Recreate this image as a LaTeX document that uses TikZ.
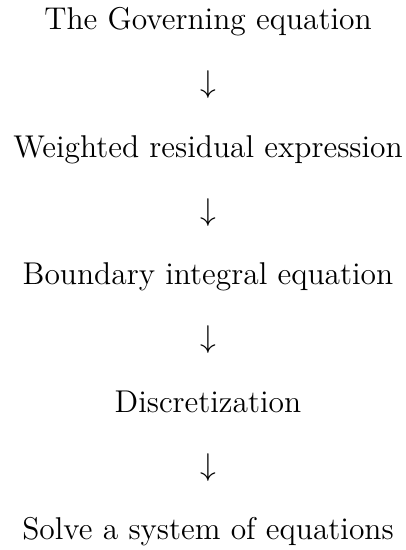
\documentclass[tikz,border=0pt]{standalone}
\begin{document}
\begin{tikzpicture}[x=0.381pt,y=-0.381pt,
  stage/.style={anchor=base,inner sep=0pt,outer sep=0pt,font=\fontsize{12}{14}\selectfont},
  flowarrow/.style={anchor=base,inner sep=0pt,outer sep=0pt,font=\fontsize{12}{14}\selectfont}]
\useasboundingbox (0,0) rectangle (406,550);
\node[stage] (s1) at (208,29) {The Governing equation};
\node[flowarrow] (a1) at (208,92) {$\downarrow$};
\node[stage] (s2) at (208,157) {Weighted residual expression};
\node[flowarrow] (a2) at (208,220) {$\downarrow$};
\node[stage] (s3) at (208,284) {Boundary integral equation};
\node[flowarrow] (a3) at (208,347) {$\downarrow$};
\node[stage] (s4) at (208,412) {Discretization};
\node[flowarrow] (a4) at (208,475) {$\downarrow$};
\node[stage] (s5) at (208,539) {Solve a system of equations};
\end{tikzpicture}
\end{document}
